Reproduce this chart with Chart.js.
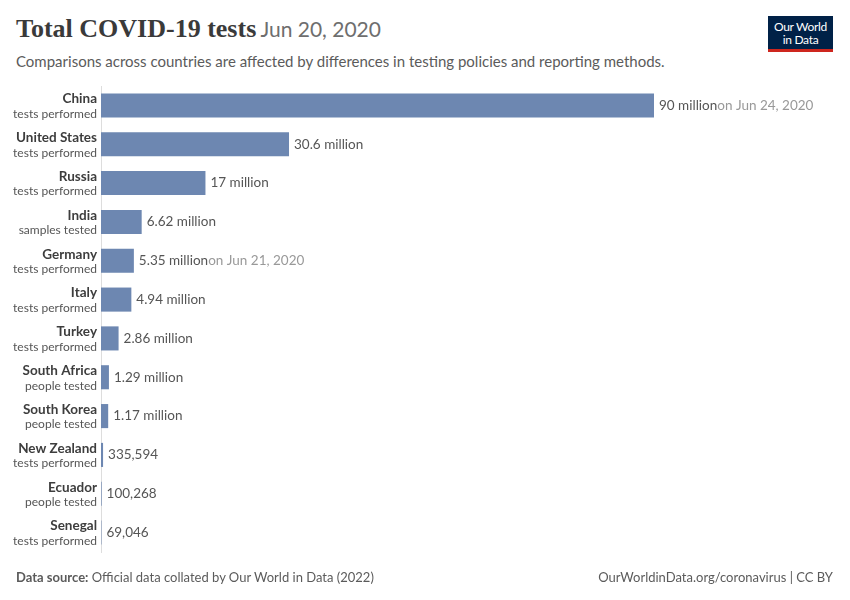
<!DOCTYPE html>
<html>
<head>
<meta charset="utf-8">
<script src="https://cdn.jsdelivr.net/npm/chart.js@4"></script>
<style>
  body { margin: 0; width: 850px; height: 600px; background: #fff; font-family: Lato, sans-serif; position: relative; overflow: hidden; }
  #chart { position: absolute; left: 0; top: 0; }
  .title { position: absolute; left: 16px; top: 14px; white-space: nowrap; }
  .title .main { font-family: 'Liberation Serif', serif; font-weight: bold; font-size: 26px; color: #3a3a3a; }
  .title .date { font-size: 21px; color: #6e6e6e; }
  .subtitle { position: absolute; left: 16px; top: 52px; font-size: 15px; color: #5b5b5b; }
  .logo { position: absolute; left: 768px; top: 16px; width: 65px; height: 36px; background: #002147; border-bottom: 3px solid #ce261e; color: #fff; font-size: 12px; line-height: 13px; text-align: center; box-sizing: border-box; padding-top: 4px; letter-spacing: -0.3px; }
  .footer { position: absolute; top: 569px; font-size: 13px; color: #5b5b5b; }
  .footer.left { left: 16px; }
  .footer.right { right: 17px; }
</style>
</head>
<body>
<div class="title"><span class="main">Total COVID-19 tests</span> <span class="date">Jun 20, 2020</span></div>
<div class="subtitle">Comparisons across countries are affected by differences in testing policies and reporting methods.</div>
<div class="logo">Our World<br>in Data</div>
<canvas id="chart" width="850" height="600"></canvas>
<div class="footer left"><b>Data source:</b> Official data collated by Our World in Data (2022)</div>
<div class="footer right">OurWorldinData.org/coronavirus | CC BY</div>
<script>
const countries = ['China', 'United States', 'Russia', 'India', 'Germany', 'Italy', 'Turkey', 'South Africa', 'South Korea', 'New Zealand', 'Ecuador', 'Senegal'];
const units = ['tests performed', 'tests performed', 'tests performed', 'samples tested', 'tests performed', 'tests performed', 'tests performed', 'people tested', 'people tested', 'tests performed', 'people tested', 'tests performed'];
const tests = [90000000, 30600000, 17000000, 6620000, 5350000, 4940000, 2860000, 1290000, 1170000, 335594, 100268, 69046];
const valueLabels = ['90 million', '30.6 million', '17 million', '6.62 million', '5.35 million', '4.94 million', '2.86 million', '1.29 million', '1.17 million', '335,594', '100,268', '69,046'];
const dateNotes = ['on Jun 24, 2020', '', '', '', 'on Jun 21, 2020', '', '', '', '', '', '', ''];

// country names + unit lines on the left, values at bar ends
const labelPlugin = {
  id: 'owidLabels',
  afterDatasetsDraw(chart) {
    const ctx = chart.ctx;
    const y = chart.scales.y;
    const meta = chart.getDatasetMeta(0);
    ctx.save();
    countries.forEach((name, i) => {
      const cy = y.getPixelForValue(i);
      ctx.textAlign = 'right';
      ctx.textBaseline = 'middle';
      ctx.font = 'bold 13.5px Lato';
      ctx.fillStyle = '#3d3d3d';
      ctx.fillText(name, chart.chartArea.left - 4, cy - 6.5);
      ctx.font = '12px Lato';
      ctx.fillStyle = '#555';
      ctx.fillText(units[i], chart.chartArea.left - 4, cy + 8.5);

      const bar = meta.data[i];
      let x = bar.x + 5;
      ctx.textAlign = 'left';
      ctx.font = '13.5px Lato';
      ctx.fillStyle = '#555';
      ctx.fillText(valueLabels[i], x, cy);
      if (dateNotes[i]) {
        x += ctx.measureText(valueLabels[i]).width;
        ctx.fillStyle = '#999';
        ctx.fillText(dateNotes[i], x, cy);
      }
    });
    ctx.restore();
  }
};

new Chart(document.getElementById('chart').getContext('2d'), {
  type: 'bar',
  data: {
    labels: countries,
    datasets: [{
      data: tests,
      backgroundColor: '#6d87b1',
      barPercentage: 0.62,
      categoryPercentage: 1
    }]
  },
  options: {
    indexAxis: 'y',
    responsive: false,
    animation: false,
    layout: { padding: { left: 100, top: 86, right: 196, bottom: 48 } },
    plugins: { legend: { display: false }, tooltip: { enabled: false } },
    scales: {
      x: { display: false, min: 0, max: 90000000 },
      y: {
        grid: { display: false },
        ticks: { display: false },
        border: { display: true, color: '#ddd', width: 1 },
        afterFit: s => { s.width = 1; }
      }
    }
  },
  plugins: [labelPlugin]
});
</script>
</body>
</html>
